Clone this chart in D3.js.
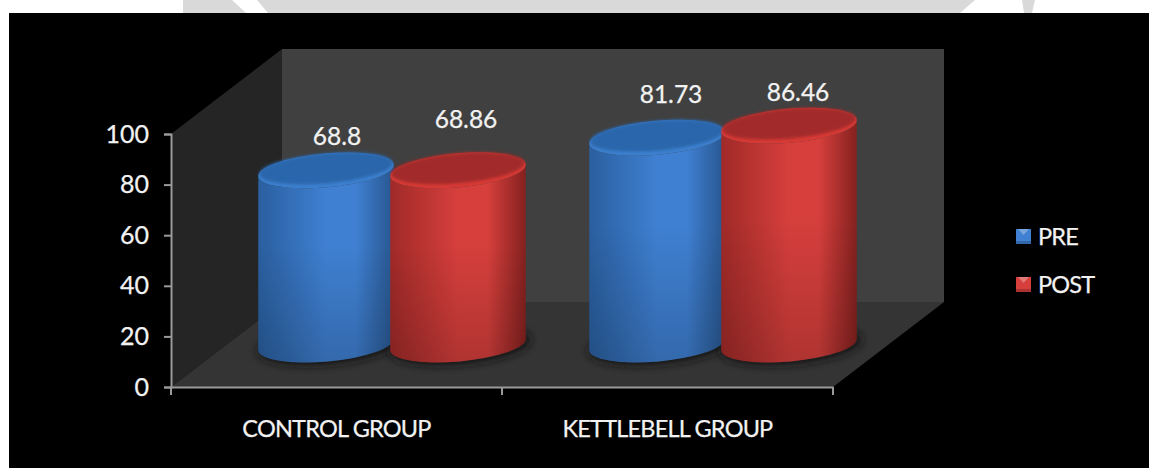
<!DOCTYPE html>
<html>
<head>
<meta charset="utf-8">
<script src="https://cdnjs.cloudflare.com/ajax/libs/d3/7.8.5/d3.min.js"></script>
<style>
html,body{margin:0;padding:0;background:#fff}
svg{display:block}
text{font-family:Lato,"Open Sans",sans-serif;fill:#f2f2f2;stroke:#f2f2f2;stroke-width:0.25px}
</style>
</head>
<body>
<svg id="chart" width="1149" height="468"></svg>
<script>
const groups = ["CONTROL GROUP", "KETTLEBELL GROUP"];
const seriesNames = ["PRE", "POST"];
const preValues = [68.8, 81.73];
const postValues = [68.86, 86.46];
const yTicks = [0, 20, 40, 60, 80, 100];

const svg = d3.select("#chart");
const defs = svg.append("defs");

// Plot frame: front plane of the box plus the depth vector to the back wall
const plot = {x0: 171, x1: 833, y0: 387, y1: 134, dx: 111, dy: -85};
const y = d3.scaleLinear().domain([0, 100]).range([plot.y0, plot.y1]);
const x = d3.scaleBand().domain(groups).range([plot.x0, plot.x1]);
const colors = {
  PRE:  {edge: "#2a5f9f", mid: "#3f80d2", far: "#28568f", top: "#2a66ab", rim: "#3c80cf"},
  POST: {edge: "#a02a28", mid: "#d63f3c", far: "#84211f", top: "#a32c29", rim: "#d93a35"}
};

// Backdrop: paper, faint letterhead strip and the black chart area
svg.append("rect").attr("width", 1149).attr("height", 468).attr("fill", "#fff");
const strip = svg.append("g").attr("fill", "#d9d9d9");
strip.append("path").attr("d", "M183,0H232L246,13H183Z");
strip.append("path").attr("d", "M257,0H975L960,13H268Z");
strip.append("path").attr("d", "M1022,0H1035L1032,13H1024Z");
svg.append("rect").attr("x", 9).attr("y", 13).attr("width", 1140).attr("height", 455).attr("fill", "#000");

// Box walls
const poly = pts => "M" + pts.map(p => p.join(",")).join("L") + "Z";
const backL = plot.x0 + plot.dx, backR = plot.x1 + plot.dx;
const backB = plot.y0 + plot.dy, backT = plot.y1 + plot.dy;
svg.append("path").attr("fill", "#252525")
  .attr("d", poly([[plot.x0, plot.y0], [plot.x0, plot.y1], [backL, backT], [backL, backB]]));
svg.append("path").attr("fill", "#343434")
  .attr("d", poly([[plot.x0, plot.y0], [plot.x1, plot.y0], [backR, backB], [backL, backB]]));
svg.append("rect").attr("fill", "#404040")
  .attr("x", backL).attr("y", backT).attr("width", backR - backL).attr("height", backB - backT);

// Axes
const axisColor = "#9a9a9a";
const yAxis = svg.append("g").attr("transform", `translate(${plot.x0},0)`)
  .call(d3.axisLeft(y).tickValues(yTicks).tickSize(7).tickPadding(15));
const xAxis = svg.append("g").attr("transform", `translate(0,${plot.y0})`)
  .call(d3.axisBottom(x).tickSize(0).tickFormat(""));
[yAxis, xAxis].forEach(a => {
  a.selectAll("path.domain").attr("stroke", axisColor).attr("stroke-width", 2);
  a.selectAll("line").attr("stroke", axisColor).attr("stroke-width", 2);
});
yAxis.selectAll("text").style("font-size", "25px").attr("fill", "#f2f2f2");
// Tick marks fall between the categories, so they follow the band edges
xAxis.selectAll("line.edge")
  .data([plot.x0, x(groups[1]), plot.x1])
  .join("line").attr("class", "edge")
  .attr("x1", d => d).attr("x2", d => d)
  .attr("y1", 0).attr("y2", 8)
  .attr("stroke", axisColor).attr("stroke-width", 2);
svg.selectAll("text.cat").data(groups).join("text")
  .attr("class", "cat")
  .attr("x", d => x(d) + x.bandwidth() / 2)
  .attr("y", 437)
  .attr("text-anchor", "middle")
  .style("font-size", "23.5px")
  .style("letter-spacing", "-0.8px")
  .text(d => d);

// Gradients for the cylinder shading
seriesNames.forEach(name => {
  const c = colors[name];
  const g = defs.append("linearGradient").attr("id", "body" + name);
  [[0, c.edge], [0.5, c.mid], [0.72, c.mid], [1, c.far]].forEach(([o, col]) =>
    g.append("stop").attr("offset", o).attr("stop-color", col));
});
const shade = defs.append("linearGradient").attr("id", "fall").attr("x1", 0).attr("x2", 0).attr("y1", 0).attr("y2", 1);
shade.append("stop").attr("offset", 0.4).attr("stop-color", "#000").attr("stop-opacity", 0);
shade.append("stop").attr("offset", 1).attr("stop-color", "#000").attr("stop-opacity", 0.18);
defs.append("filter").attr("id", "soft").attr("x", "-20%").attr("y", "-40%").attr("width", "140%").attr("height", "180%")
  .append("feGaussianBlur").attr("stdDeviation", 4);
defs.append("filter").attr("id", "rimBlur").attr("x", "-10%").attr("y", "-20%").attr("width", "120%").attr("height", "140%")
  .append("feGaussianBlur").attr("stdDeviation", 1.6);

// Cylinders sit halfway back in the box
const rx = 68, ry = 17, tilt = -5, barStep = 66;
const depthX = plot.dx / 2, depthY = plot.dy / 2;
const rad = tilt * Math.PI / 180;
const tipX = rx * Math.cos(rad), tipY = rx * Math.sin(rad);

const marks = groups.flatMap((g, i) => [
  {group: g, name: "PRE", value: preValues[i], side: -1, labelUp: i === 0 ? 25 : 35, labelShift: i === 0 ? 11 : 14},
  {group: g, name: "POST", value: postValues[i], side: 1, labelUp: i === 0 ? 42 : 25, labelShift: i === 0 ? 8 : 9}
]);
marks.forEach(m => {
  m.cx = x(m.group) + x.bandwidth() / 2 + depthX + m.side * barStep;
  m.baseY = y(0) + depthY;
  m.topY = y(m.value) + depthY;
});

// Contact shadows go underneath every cylinder
svg.selectAll("ellipse.shadow").data(marks).join("ellipse")
  .attr("class", "shadow")
  .attr("cx", d => d.cx + 2).attr("cy", d => d.baseY + 1)
  .attr("rx", rx + 3).attr("ry", ry + 2)
  .attr("transform", d => `rotate(${tilt},${d.cx + 2},${d.baseY + 1})`)
  .attr("fill", "#141414").attr("filter", "url(#soft)");

const bars = svg.selectAll("g.bar").data(marks).join("g").attr("class", "bar");
const bodyPath = d =>
  `M${d.cx - tipX},${d.topY - tipY}` +
  `L${d.cx - tipX},${d.baseY - tipY}` +
  `A${rx},${ry} ${tilt} 0 0 ${d.cx + tipX},${d.baseY + tipY}` +
  `L${d.cx + tipX},${d.topY + tipY}` +
  `A${rx},${ry} ${tilt} 0 1 ${d.cx - tipX},${d.topY - tipY}Z`;
bars.append("path").attr("d", bodyPath).attr("fill", d => `url(#body${d.name})`);
bars.append("path").attr("d", bodyPath).attr("fill", "url(#fall)");
bars.append("ellipse")
  .attr("cx", d => d.cx).attr("cy", d => d.topY)
  .attr("rx", rx).attr("ry", ry)
  .attr("transform", d => `rotate(${tilt},${d.cx},${d.topY})`)
  .attr("fill", d => colors[d.name].rim);
bars.append("ellipse")
  .attr("cx", d => d.cx).attr("cy", d => d.topY - 2)
  .attr("rx", rx - 1).attr("ry", ry - 2)
  .attr("transform", d => `rotate(${tilt},${d.cx},${d.topY - 2})`)
  .attr("fill", d => colors[d.name].top)
  .attr("filter", "url(#rimBlur)");

// Value labels
svg.selectAll("text.val").data(marks).join("text")
  .attr("class", "val")
  .attr("x", d => d.cx + d.labelShift)
  .attr("y", d => d.topY - d.labelUp)
  .attr("text-anchor", "middle")
  .style("font-size", "24.5px")
  .text(d => d.value);

// Legend
const legend = svg.selectAll("g.key").data(seriesNames).join("g")
  .attr("class", "key")
  .attr("transform", (d, i) => `translate(1016,${229 + i * 48})`);
legend.append("rect").attr("width", 15).attr("height", 15).attr("fill", d => colors[d].mid);
legend.append("path").attr("d", "M2,0H13L7.5,6Z").attr("fill", "#fff").attr("fill-opacity", 0.3);
legend.append("path").attr("d", "M0,15H15V12H0Z").attr("fill", "#000").attr("fill-opacity", 0.2);
legend.append("text").attr("x", 22).attr("y", 16).style("font-size", "23.5px").style("letter-spacing", "-0.8px").text(d => d);
</script>
</body>
</html>
